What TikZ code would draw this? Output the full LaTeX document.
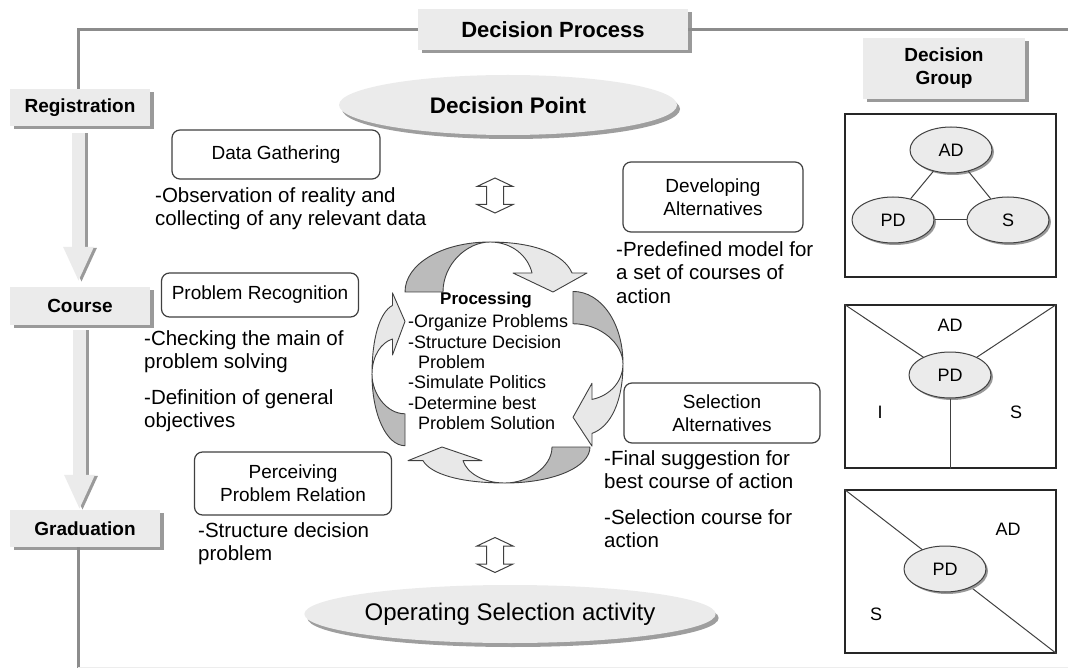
\documentclass[tikz,border=0pt]{standalone}
\usepackage{fontspec}
\setmainfont{Liberation Sans}
\usetikzlibrary{shapes.geometric,shadows,arrows.meta,calc}
\definecolor{framegray}{HTML}{8C8C8C}
\definecolor{boxfill}{HTML}{EBEBEB}
\definecolor{shadowgray}{HTML}{9A9A9A}
\definecolor{edge}{HTML}{404040}
\definecolor{darkarc}{HTML}{BBBBBB}
\definecolor{lightarc}{HTML}{E8E8E8}
\begin{document}
\begin{tikzpicture}[x=1pt,y=-1pt,
  frame/.style={draw=framegray, line width=3pt},
  graybox/.style={rectangle, fill=boxfill, inner sep=0pt, align=center,
    font=\bfseries\fontsize{19}{23}\selectfont,
    drop shadow={shadow xshift=4pt, shadow yshift=-3pt, opacity=1, fill=shadowgray}},
  rbox/.style={rectangle, draw=edge, line width=1.2pt, rounded corners=8pt, fill=white,
    inner sep=0pt, align=center, font=\fontsize{19}{23}\selectfont},
  body/.style={anchor=north west, align=left, inner sep=0pt, font=\fontsize{20.5}{23.5}\selectfont},
  bigell/.style={ellipse, fill=boxfill, inner sep=0pt,
    drop shadow={shadow xshift=3pt, shadow yshift=-4pt, opacity=1, fill=black!38}},
  smallell/.style={ellipse, draw=edge, line width=1pt, fill=boxfill, minimum width=82pt,
    minimum height=46pt, inner sep=0pt, font=\fontsize{18}{20}\selectfont,
    drop shadow={shadow xshift=2pt, shadow yshift=-2pt, opacity=1, fill=black!40}},
  groupbox/.style={rectangle, draw=black!85, line width=1.3pt, minimum width=211pt,
    minimum height=163pt, inner sep=0pt},
  plain/.style={inner sep=0pt, font=\fontsize{18}{20}\selectfont},
  thinline/.style={draw=black!75, line width=1pt},
  blockarrow/.style={draw=boxfill, line width=13pt, -{Triangle[width=28pt,length=35pt]}},
  blockshadow/.style={draw=shadowgray, line width=13pt, -{Triangle[width=28pt,length=35pt]}},
  arcdark/.style={fill=darkarc, draw=edge, line width=0.9pt, line join=round},
  arclight/.style={fill=lightarc, draw=edge, line width=0.9pt, line join=round},
  hollow/.style={fill=white, draw=edge, line width=1pt},
  cyclearrow/.pic={
    \path[arcdark] (-83,0) .. controls (-83,-28) and (-46,-50) .. (2,-50)
       .. controls (-21,-50) and (-45,-28) .. (-45,0) -- cycle;
    \path[arclight] (2,-50) .. controls (46,-50) and (76,-38) .. (84,-19)
       -- (99,-19) -- (65,0) -- (25,-19) -- (44,-19)
       .. controls (40,-36) and (24,-50) .. (2,-50) -- cycle;
  },
  updown/.pic={
    \path[hollow] (0,-17.5) -- (18,-9) -- (8.5,-9) -- (8.5,9) -- (18,9) -- (0,17.5)
      -- (-18,9) -- (-8.5,9) -- (-8.5,-9) -- (-18,-9) -- cycle;
  }]
\useasboundingbox (0,0) rectangle (1068,668);

% left column and title
\node[graybox, minimum width=270pt, minimum height=41pt, font=\bfseries\fontsize{22}{26}\selectfont] (title) at (553,29.5) {Decision Process};
\node[graybox, minimum width=140pt, minimum height=37pt] (reg) at (80,107.5) {Registration};
\node[graybox, minimum width=140pt, minimum height=38pt] (course) at (80,306) {Course};
\node[graybox, minimum width=150pt, minimum height=37pt] (grad) at (85,528.5) {Graduation};
\coordinate (frameend) at (1068,29.5);
\coordinate (framebot) at (78,668);
\draw[frame] ([xshift=-2pt]reg.north) |- (title.west);
\draw[frame] (title.east) -- (frameend);
\draw[frame] (grad.south -| framebot) -- (framebot);
\draw[draw=black!7, line width=1pt] (framebot) ++(0,-1) -- ++(990,0);

\draw[blockshadow, shorten <=7pt, shorten >=4pt] ([xshift=1.5pt]reg.south) -- ([xshift=1.5pt]course.north);
\draw[blockarrow, shorten <=7pt, shorten >=5pt] ([xshift=-1.5pt]reg.south) -- ([xshift=-1.5pt]course.north);
\draw[blockshadow, shorten <=5pt, shorten >=-1pt] ([xshift=2.5pt]course.south) -- ([xshift=2.5pt]course.south |- grad.north);
\draw[blockarrow, shorten <=5pt] ([xshift=-0.5pt]course.south) -- ([xshift=-0.5pt]course.south |- grad.north);

% decision point / operating
\node[bigell, minimum width=338pt, minimum height=60pt, font=\bfseries\fontsize{22.5}{26}\selectfont] (dpoint) at (508,105) {Decision Point};
\node[bigell, minimum width=338pt, minimum height=58pt, font=\fontsize{24}{28}\selectfont] (osel) at (510,614) {Operating Selection activity};

\pic at (495,195.5) {updown};
\pic at (495,555) {updown};

% rounded boxes
\node[rbox, minimum width=208pt, minimum height=49pt] (dg) at (276,154.5) {Data Gathering};
\node[rbox, minimum width=197pt, minimum height=44pt] (pr) at (260,295) {Problem Recognition};
\node[rbox, minimum width=197pt, minimum height=63pt] (pp) at (293,483.5) {Perceiving\\Problem Relation};
\node[rbox, minimum width=180pt, minimum height=70pt] (da) at (713,197) {Developing\\Alternatives};
\node[rbox, minimum width=196pt, minimum height=60pt] (sa) at (722,413) {Selection\\Alternatives};

\node[body] (t1) at (155,187.3) {-Observation of reality and\\collecting of any relevant data};
\node[body] (t2) at (144,330.3) {-Checking the main of\\problem solving};
\node[body] (t3) at (144,389.3) {-Definition of general\\objectives};
\node[body] (t4) at (198,522.3) {-Structure decision\\problem};
\node[body] (t5) at (616,241.3) {-Predefined model for\\a set of courses of\\action};
\node[body] (t6) at (604,450.3) {-Final suggestion for\\best course of action};
\node[body] (t7) at (604,509.3) {-Selection course for\\action};

% cycle
\begin{scope}[shift={(488,292)}] \pic[transform shape] at (0,0) {cyclearrow}; \end{scope}
\begin{scope}[shift={(573,362)}, rotate=-90, xscale=0.85] \pic[transform shape] at (0,0) {cyclearrow}; \end{scope}
\begin{scope}[shift={(507,447)}, rotate=180, yscale=0.72] \pic[transform shape] at (0,0) {cyclearrow}; \end{scope}
\begin{scope}[shift={(405,376)}, rotate=90, xscale=0.84, yscale=0.66] \pic[transform shape] at (0,0) {cyclearrow}; \end{scope}

\node[inner sep=0pt, font=\bfseries\fontsize{17}{20}\selectfont] (proc) at (486,300) {Processing};
\node[anchor=north west, align=left, inner sep=0pt, font=\fontsize{18}{20.4}\selectfont] (plist) at (408,314.4)
  {-Organize Problems\\-Structure Decision\\\hspace*{10pt}Problem\\-Simulate Politics\\-Determine best\\\hspace*{10pt}Problem Solution};

% decision group
\node[graybox, minimum width=162pt, minimum height=61pt] (dgroup) at (944,68.5) {Decision\\Group};

\node[groupbox] (b1) at (950.5,195.5) {};
\node[smallell] (ad1) at (951,150) {AD};
\node[smallell] (pd1) at (893,220) {PD};
\node[smallell] (s1) at (1008,220) {S};
\draw[thinline] (ad1) -- (pd1);
\draw[thinline] (ad1) -- (s1);
\draw[thinline] (pd1) -- (s1);

\node[groupbox] (b2) at (950.5,386.5) {};
\coordinate (pd2c) at (950,375);
\draw[thinline] (b2.north west) -- (pd2c);
\draw[thinline] (b2.north east) -- (pd2c);
\node[smallell] (pd2) at (pd2c) {PD};
\draw[thinline] (pd2.south) -- (pd2.south |- b2.south);
\node[plain] (ad2) at (950,325) {AD};
\node[plain] (i2) at (880,412) {I};
\node[plain] (s2) at (1016,412) {S};

\node[groupbox] (b3) at (950.5,571.5) {};
\draw[thinline] (b3.north west) -- (b3.south east);
\node[smallell] (pd3) at (945,569) {PD};
\node[plain] (ad3) at (1008,529) {AD};
\node[plain] (s3) at (876,614) {S};
\end{tikzpicture}
\end{document}
